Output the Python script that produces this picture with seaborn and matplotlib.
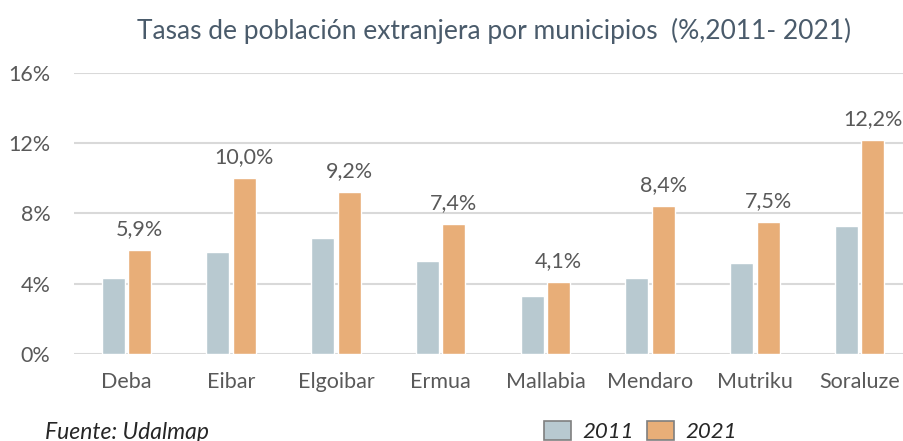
import pandas as pd
import matplotlib
matplotlib.use("Agg")
import matplotlib.pyplot as plt
import seaborn as sns
from matplotlib.patches import Patch

# Datos
municipios = ['Deba', 'Eibar', 'Elgoibar', 'Ermua', 'Mallabia', 'Mendaro', 'Mutriku', 'Soraluze']
tasa_2011 = [4.3, 5.8, 6.6, 5.3, 3.3, 4.3, 5.2, 7.3]
tasa_2021 = [5.9, 10.0, 9.2, 7.4, 4.1, 8.4, 7.5, 12.2]
ticks_y = [0, 4, 8, 12, 16]

gris_texto = '#595959'
col_2011 = '#B8C9D0'
col_2021 = '#E8AE78'

sns.set_style("white")
plt.rcParams['font.family'] = ['Lato', 'DejaVu Sans']

df = pd.DataFrame({
    'municipio': municipios * 2,
    'tasa': tasa_2011 + tasa_2021,
    'anio': ['2011'] * len(municipios) + ['2021'] * len(municipios),
})

fig = plt.figure(figsize=(9.04, 4.41), dpi=100)
ax = fig.add_axes([0.0819, 0.198, 0.927, 0.636])

sns.barplot(data=df, x='municipio', y='tasa', hue='anio', ax=ax,
            palette=[col_2011, col_2021], width=0.505, gap=0.13,
            saturation=1, legend=False)

# Etiquetas de 2021
etiquetas = [f"{v:.1f}%".replace('.', ',') for v in tasa_2021]
ax.bar_label(ax.containers[1], labels=etiquetas, padding=8,
             fontsize=15.5, color=gris_texto)

ax.set_ylim(0, 16)
ax.set_yticks(ticks_y)
ax.set_yticklabels([f"{t}%" for t in ticks_y])
ax.set_xlim(-0.5, len(municipios) - 0.5)
ax.grid(axis='y', color='#D9D9D9', linewidth=1.5)
ax.set_axisbelow(True)
for s in ax.spines.values():
    s.set_visible(False)
ax.tick_params(axis='both', length=0, labelsize=15.5, labelcolor=gris_texto)
ax.tick_params(axis='y', pad=17)
ax.tick_params(axis='x', pad=13)
ax.set_xlabel('')
ax.set_ylabel('')

fig.text(0.547, 0.93, "Tasas de población extranjera por municipios  (%,2011- 2021)",
         ha='center', va='center', fontsize=19, color='#4A5B6B')
fig.text(0.05, 0.02, "Fuente: Udalmap", ha='left', va='center',
         fontsize=16.5, fontstyle='italic', color='#262626')

handles = [Patch(facecolor=col_2011, edgecolor='#7F7F7F', linewidth=1.2, label='2011'),
           Patch(facecolor=col_2021, edgecolor='#7F7F7F', linewidth=1.2, label='2021')]
leg = fig.legend(handles=handles, loc='center left', bbox_to_anchor=(0.59, 0.022),
                 ncol=2, frameon=False, fontsize=16, handlelength=1.2, handleheight=1.0,
                 columnspacing=0.6, handletextpad=0.5, borderpad=0)
for t in leg.get_texts():
    t.set_fontstyle('italic')
    t.set_color('#262626')

fig.savefig("out.png", dpi=100)
